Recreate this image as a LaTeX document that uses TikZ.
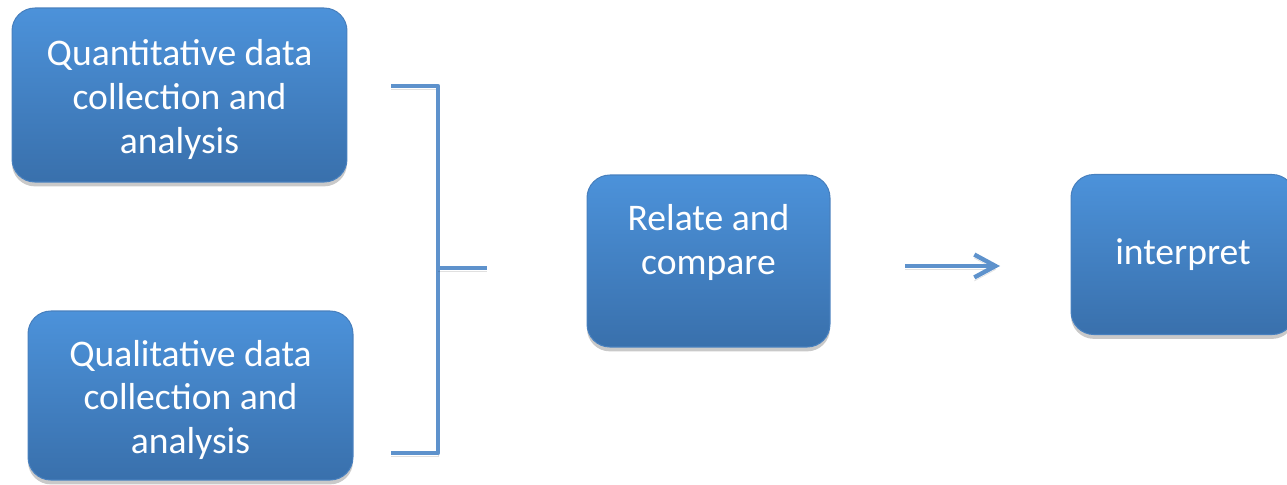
\documentclass[tikz,border=0pt]{standalone}
\usepackage{fontspec}
\setmainfont{Carlito}
\usetikzlibrary{arrows.meta,shadows}

\definecolor{boxtop}{RGB}{76,146,218}
\definecolor{boxbot}{RGB}{57,112,172}
\definecolor{boxedge}{RGB}{72,128,190}
\definecolor{linkblue}{RGB}{94,146,204}

% lower a text block a little without changing its size
\newcommand{\lowered}[1]{\raisebox{-2.5pt}[\height][\depth]{\parbox{6cm}{\centering #1}}}

\begin{document}
\begin{tikzpicture}[
  x=0.02cm, y=-0.02cm,
  font=\fontsize{21.4}{25}\selectfont,
  box/.style={rounded corners=13pt, align=center, text=white, inner sep=0pt,
    top color=boxtop, bottom color=boxbot, draw=boxedge, line width=0.6pt,
    drop shadow={shadow xshift=0pt, shadow yshift=-2.5pt, opacity=0.3, fill=black!70}},
  link/.style={draw=linkblue, line width=2.5pt, line join=round,
    preaction={draw=black, opacity=0.12, transform canvas={yshift=-2pt}}}
]
\useasboundingbox (0,0) rectangle (1287,484);

% the four steps
\node[box, minimum width=6.7cm, minimum height=3.48cm] (quant) at (179.5,95)
  {\lowered{Quantitative data\\collection and\\analysis}};
\node[box, minimum width=6.5cm, minimum height=3.38cm] (qual) at (190.5,395.5)
  {\lowered{Qualitative data\\collection and\\analysis}};
\node[box, minimum width=4.86cm, minimum height=3.44cm] (relate) at (708.5,261)
  {Relate and\\compare\\\mbox{}};
\node[box, minimum width=4.48cm, minimum height=3.2cm] (interp) at (1183,254.5)
  {interpret};

% bracket joining both strands
\coordinate (armtop) at (391,86);
\coordinate (armbot) at (391,453);
\coordinate (spine) at (438,268);
\coordinate (stub) at (487,268);
\draw[link] (armtop) -| (spine) |- (armbot);
\draw[link] (spine) -- (stub);

% on to interpretation
\coordinate (arrfrom) at (905,266);
\coordinate (arrto) at (1000,266);
\draw[link, -{Straight Barb[length=12pt, width=13pt]}] (arrfrom) -- (arrto);
\end{tikzpicture}
\end{document}
